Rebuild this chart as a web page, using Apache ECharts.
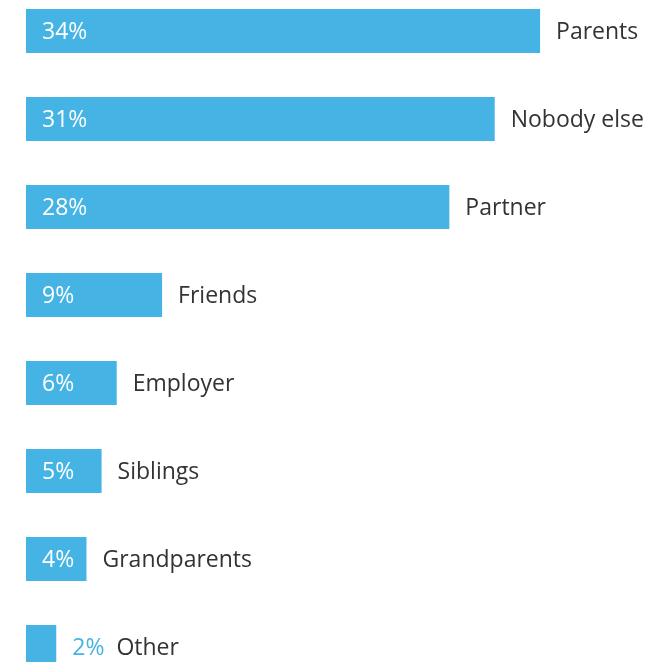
<!DOCTYPE html>
<html>
<head>
<meta charset="utf-8">
<script src="https://cdn.jsdelivr.net/npm/echarts@6/dist/echarts.min.js"></script>
<style>
  html, body { margin: 0; padding: 0; background: #ffffff; }
  #chart { width: 655px; height: 662px; }
</style>
</head>
<body>
<div id="chart"></div>
<script>
// Who people turn to, share of respondents (%)
const categories = ['Parents', 'Nobody else', 'Partner', 'Friends', 'Employer', 'Siblings', 'Grandparents', 'Other'];
const shares = [34, 31, 28, 9, 6, 5, 4, 2];

const BAR_COLOR = '#45b4e5';
const TEXT_COLOR = '#333333';
const FONT = '"Open Sans", "Noto Sans", sans-serif';
const FONT_SIZE = 23;
const SMALL = 3; // below this value the percentage sits outside the bar

const chart = echarts.init(document.getElementById('chart'), null, { renderer: 'canvas' });

const barData = shares.map((v, i) => {
  const outside = v < SMALL;
  return {
    value: v,
    name: categories[i],
    label: {
      show: true,
      position: 'right',
      distance: 16,
      offset: [0, 1.5],
      formatter: outside ? '{pct|' + v + '%}{name|' + categories[i] + '}' : '{name|' + categories[i] + '}',
      rich: {
        pct: { color: BAR_COLOR, fontSize: FONT_SIZE, fontFamily: FONT, padding: [0, 12, 0, 0] },
        name: { color: TEXT_COLOR, fontSize: FONT_SIZE, fontFamily: FONT }
      }
    }
  };
});

const pctData = shares.map((v) => ({
  value: v,
  label: { show: v >= SMALL }
}));

chart.setOption({
  animation: false,
  backgroundColor: '#ffffff',
  grid: { left: 26, top: -13, width: 604.8, height: 704, outerBoundsMode: 'none', containLabel: false },
  xAxis: {
    type: 'value', min: 0, max: 40,
    show: false
  },
  yAxis: {
    type: 'category',
    data: categories,
    inverse: true,
    show: false
  },
  series: [
    {
      type: 'bar',
      data: barData,
      barWidth: 44,
      itemStyle: { color: BAR_COLOR },
      silent: true,
      z: 2
    },
    {
      // percentage labels drawn inside the bars
      type: 'bar',
      data: pctData,
      barWidth: 44,
      barGap: '-100%',
      itemStyle: { color: 'rgba(0,0,0,0)' },
      label: {
        position: 'insideLeft',
        distance: 16,
        offset: [0, 1.5],
        color: '#ffffff',
        fontSize: FONT_SIZE,
        fontFamily: FONT,
        formatter: '{c}%'
      },
      silent: true,
      z: 3
    }
  ]
});
</script>
</body>
</html>
